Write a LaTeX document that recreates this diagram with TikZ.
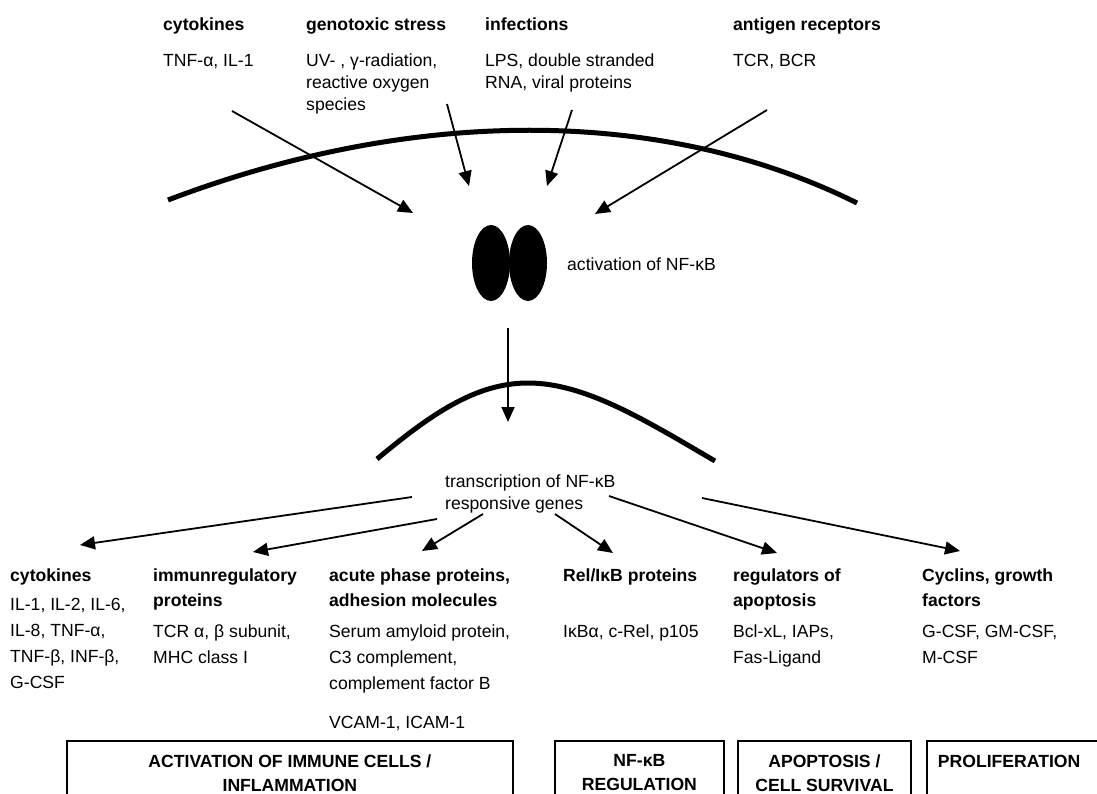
\documentclass[tikz,border=0pt]{standalone}
\usepackage{fontspec}
\setmainfont{Liberation Sans}
\usetikzlibrary{arrows.meta,shapes.geometric}

\begin{document}
\begin{tikzpicture}[x=1pt,y=-1pt,
  txt/.style={anchor=base west,inner sep=0pt,align=left,font=\fontsize{17.6}{22}\selectfont},
  head/.style={txt,font=\bfseries\fontsize{17.6}{25}\selectfont},
  gene/.style={txt,font=\fontsize{17.6}{26}\selectfont},
  subunit/.style={ellipse,fill=black,minimum width=38pt,minimum height=76pt,inner sep=0pt},
  arr/.style={-{Triangle[length=15pt,width=13pt]},line width=1.8pt},
  membrane/.style={line width=5pt},
  effect/.style={draw,line width=1.8pt,anchor=north west,minimum height=64pt,align=center,
    font=\bfseries\fontsize{17.6}{24}\selectfont}]

  \useasboundingbox (0,0) rectangle (1097,794);
  \fill[white] (0,0) rectangle (1097,794);
  \clip (0,0) rectangle (1097,794);

  % Stimuli (multi-line nodes sit on their last baseline)
  \node[head] (cyt) at (163,31) {cytokines};
  \node[txt] (cytex) at (163,67) {TNF-α, IL-1};
  \node[head] (geno) at (306,31) {genotoxic stress};
  \node[txt] (genoex) at (306,111) {UV- , γ-radiation,\\reactive oxygen\\species};
  \node[head] (infec) at (485,31) {infections};
  \node[txt] (infecex) at (485,89) {LPS, double stranded\\RNA, viral proteins};
  \node[head] (antig) at (733,31) {antigen receptors};
  \node[txt] (antigex) at (733,67) {TCR, BCR};

  % Cell membrane
  \draw[membrane] (168,200) .. controls (410,108) and (660,105) .. (857,203);

  % NF-kB dimer
  \node[subunit] (p50) at (491,263) {};
  \node[subunit] (p65) at (528,263) {};
  \node[txt,anchor=west] (act) at (567,264) {activation of NF-κB};

  % Nuclear membrane
  \draw[membrane] (377,459) .. controls (430,415) and (475,383) .. (528,383)
    .. controls (585,383) and (645,420) .. (715,461);
  \node[txt] (trans) at (445,509) {transcription of NF-κB\\responsive genes};

  % Target genes
  \node[head] (g1) at (10,581) {cytokines};
  \node[gene] (g1ex) at (10,688) {IL-1, IL-2, IL-6,\\IL-8, TNF-α,\\TNF-β, INF-β,\\G-CSF};
  \node[head] (g2) at (153,606) {immunregulatory\\proteins};
  \node[gene] (g2ex) at (153,663) {TCR α, β subunit,\\MHC class I};
  \node[head] (g3) at (329,606) {acute phase proteins,\\adhesion molecules};
  \node[gene] (g3ex) at (329,689) {Serum amyloid protein,\\C3 complement,\\complement factor B};
  \node[gene] (g3ad) at (329,728) {VCAM-1, ICAM-1};
  \node[head] (g4) at (563,581) {Rel/IκB proteins};
  \node[gene] (g4ex) at (563,637) {IκBα, c-Rel, p105};
  \node[head] (g5) at (733,606) {regulators of\\apoptosis};
  \node[gene] (g5ex) at (733,663) {Bcl-xL, IAPs,\\Fas-Ligand};
  \node[head] (g6) at (922,606) {Cyclins, growth\\factors};
  \node[gene] (g6ex) at (922,663) {G-CSF, GM-CSF,\\M-CSF};

  % Outcomes
  \node[effect,minimum width=446pt] (e1) at (66,740) {ACTIVATION OF IMMUNE CELLS /\\INFLAMMATION};
  \node[effect,minimum width=169pt] (e2) at (554,740) {NF-κB\\REGULATION};
  \node[effect,minimum width=173pt] (e3) at (737,740) {APOPTOSIS /\\CELL SURVIVAL};
  \node[effect,text width=200pt,align=left,inner xsep=11pt] (e4) at (926,740) {PROLIFERATION\\\mbox{}};

  % Arrow ends
  \coordinate (s1) at (232,111);  \coordinate (t1) at (413,213);
  \coordinate (s2) at (447,104);  \coordinate (t2) at (469,186);
  \coordinate (s3) at (572,110);  \coordinate (t3) at (547,186);
  \coordinate (s4) at (767,110);  \coordinate (t4) at (595,214);
  \coordinate (s5) at (508,328);  \coordinate (t5) at (508,422);
  \coordinate (u1) at (412,497);  \coordinate (v1) at (80,545);
  \coordinate (u2) at (437,519);  \coordinate (v2) at (253,552);
  \coordinate (u3) at (483,514);  \coordinate (v3) at (422,551);
  \coordinate (u4) at (555,514);  \coordinate (v4) at (613,553);
  \coordinate (u5) at (609,496);  \coordinate (v5) at (777,553);
  \coordinate (u6) at (702,498);  \coordinate (v6) at (960,551);

  % Signals to NF-kB
  \draw[arr] (s1) -- (t1);
  \draw[arr] (s2) -- (t2);
  \draw[arr] (s3) -- (t3);
  \draw[arr] (s4) -- (t4);
  \draw[arr] (s5) -- (t5);

  % Gene classes
  \draw[arr] (u1) -- (v1);
  \draw[arr] (u2) -- (v2);
  \draw[arr] (u3) -- (v3);
  \draw[arr] (u4) -- (v4);
  \draw[arr] (u5) -- (v5);
  \draw[arr] (u6) -- (v6);
\end{tikzpicture}
\end{document}
